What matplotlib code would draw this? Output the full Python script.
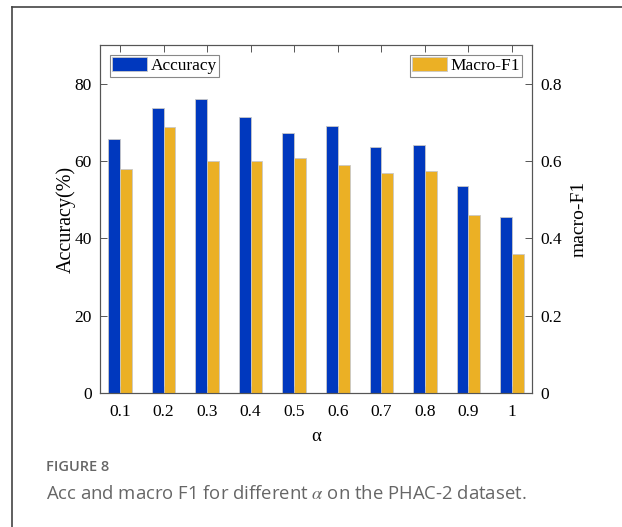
import matplotlib
matplotlib.use("Agg")
import matplotlib.pyplot as plt
from matplotlib.lines import Line2D
import numpy as np

# 数据
alphas = ["0.1", "0.2", "0.3", "0.4", "0.5", "0.6", "0.7", "0.8", "0.9", "1"]
accuracy = [65.6, 73.6, 76.1, 71.5, 67.2, 69.1, 63.7, 64.1, 53.6, 45.6]
macro_f1 = [0.580, 0.689, 0.600, 0.600, 0.608, 0.589, 0.568, 0.573, 0.460, 0.360]
acc_ticks = [0, 20, 40, 60, 80]
f1_ticks = [0, 0.2, 0.4, 0.6, 0.8]

BLUE = "#0038BE"
GOLD = "#EBB025"
SPINE = "#555555"

plt.rcParams['font.family'] = ['Liberation Serif', 'DejaVu Serif']
plt.rcParams['mathtext.fontset'] = 'stix'

fig = plt.figure(figsize=(6.22, 5.27), dpi=100)
W, H = 622, 527
ax = fig.add_axes([100 / W, 1 - 393 / H, (532 - 100) / W, (393 - 45) / H])
ax2 = ax.twinx()

x = np.arange(1, len(alphas) + 1)
bw = 0.27
ax.bar(x - bw / 2, accuracy, bw, color=BLUE, edgecolor="#C8C8C8", linewidth=0.6, label="Accuracy")
ax2.bar(x + bw / 2, macro_f1, bw, color=GOLD, edgecolor="#C8C8C8", linewidth=0.6, label="Macro-F1")

ax.set_xlim(0.54, 10.46)
ax.set_ylim(0, 90)
ax2.set_ylim(0, 0.9)
ax.set_xticks(x)
ax.set_xticklabels(alphas)
ax.set_yticks(acc_ticks)
ax2.set_yticks(f1_ticks)
ax2.set_yticklabels(["0", "0.2", "0.4", "0.6", "0.8"])

for a in (ax, ax2):
    for s in a.spines.values():
        s.set_color(SPINE)
        s.set_linewidth(0.8)
ax.tick_params(axis="both", direction="in", length=5, width=0.7, color=SPINE,
               labelsize=12.5, top=True, pad=8)
ax.tick_params(axis="y", pad=6)
ax2.tick_params(axis="y", direction="in", length=5, width=0.7, color=SPINE,
                labelsize=12.5, pad=6)

ax.set_xlabel("α", fontsize=13.5, labelpad=6)
ax.set_ylabel("Accuracy(%)", fontsize=14.5, labelpad=-1)
ax2.set_ylabel("macro-F1", fontsize=14, labelpad=6)

leg_kw = dict(fontsize=12.5, fancybox=False, framealpha=1, edgecolor="#888888",
              handlelength=2.0, handleheight=0.85, borderpad=0.15,
              handletextpad=0.2, borderaxespad=0.55)
leg1 = ax.legend(loc="upper left", **leg_kw)
leg2 = ax2.legend(loc="upper right", **leg_kw)
leg1.get_frame().set_linewidth(0.8)
leg2.get_frame().set_linewidth(0.8)

# 外框
fig.add_artist(Line2D([12 / W, 1], [1 - 7 / H, 1 - 7 / H], color="#444444", linewidth=1.2))
fig.add_artist(Line2D([12 / W, 12 / W], [0, 1 - 7 / H], color="#444444", linewidth=1.2))

# 图注
fig.text(46 / W, 1 - 467 / H, "FIGURE 8", fontsize=10.5, color="#666666",
         family=["Open Sans", "DejaVu Sans"], fontweight="semibold", va="center")
fig.text(46 / W, 1 - 494 / H, r"Acc and macro F1 for different $\alpha$ on the PHAC-2 dataset.",
         fontsize=13.3, color="#666666", family=["Open Sans", "DejaVu Sans"], va="center")

fig.savefig("out.png", dpi=100)
